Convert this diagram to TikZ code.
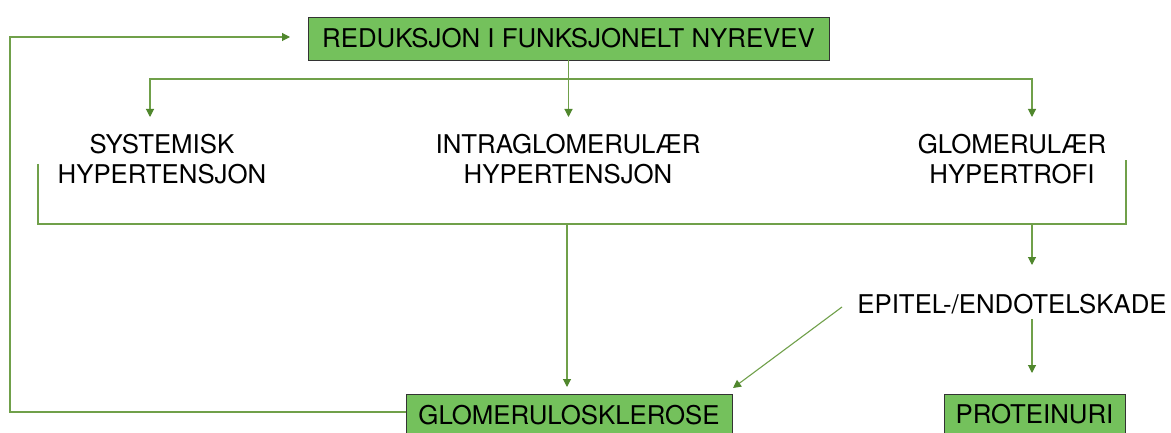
\documentclass[tikz,border=0pt]{standalone}
\usepackage{fontspec}
\setmainfont{TeX Gyre Heros}
\usetikzlibrary{arrows.meta}
\definecolor{boxgreen}{RGB}{116,193,92}
\definecolor{linegreen}{RGB}{112,160,74}
\definecolor{tipgreen}{RGB}{80,135,45}
\tikzset{
  lab/.style={font=\fontsize{25.8}{30}\selectfont, align=center, inner sep=0pt, text=black},
  gbox/.style={lab, draw=black!80, line width=0.8pt, fill=boxgreen},
  conn/.style={draw=linegreen, line width=1.1pt},
  arr/.style={conn, -{Triangle[length=8pt,width=8pt,color=tipgreen]}},
}
\begin{document}
\begin{tikzpicture}[x=1pt,y=-1pt]
\clip (0,0) rectangle (1171,433);
\fill[white] (0,0) rectangle (1171,433);
% nodes
\node[gbox, minimum width=521pt, minimum height=43pt] (top) at (568.5,38.5) {REDUKSJON I FUNKSJONELT NYREVEV};
\node[lab] (sys) at (162,159) {SYSTEMISK\\HYPERTENSJON};
\node[lab] (intra) at (568,159) {INTRAGLOMERULÆR\\HYPERTENSJON};
\node[lab] (glom) at (1012,159) {GLOMERULÆR\\HYPERTROFI};
\node[lab] (epi) at (1012,304) {EPITEL-/ENDOTELSKADE};
\node[gbox, minimum width=326pt, minimum height=42pt] (glosk) at (569,415) {GLOMERULOSKLEROSE};
\node[gbox, minimum width=181pt, minimum height=40pt] (prot) at (1034.5,414) {PROTEINURI};
% coordinates
\coordinate (hub) at (top.south |- 0,79);
\coordinate (s1) at (150,117);
\coordinate (s2) at (top.south |- 0,117);
\coordinate (s3) at (1032,117);
\coordinate (bl) at (38,164);
\coordinate (br) at (1126,160);
\coordinate (bc) at (567,224);
\coordinate (bg) at (1032,224);
\coordinate (epin) at (1032,265);
\coordinate (epis) at (1032,319);
\coordinate (protn) at (1032,373);
\coordinate (epiw) at (842,307);
\coordinate (glosktr) at (733,388);
\coordinate (gloskn) at (567,387);
\coordinate (fbc) at (10,37);
\coordinate (fbend) at (290,37);
\coordinate (gloskw) at (glosk.west |- 0,412);
% connectors
\draw[conn] (top.south) -- (hub);
\draw[arr] (hub) -| (s1);
\draw[arr] (hub) -| (s3);
\draw[arr] (hub) -- (s2);
\draw[conn] (bl) |- (bc) -- (bg) -| (br);
\draw[arr] (bc) -- (gloskn);
\draw[arr] (bg) -- (epin);
\draw[arr] (epis) -- (protn);
\draw[arr] (epiw) -- (glosktr);
\draw[arr] (gloskw) -| (fbc) -- (fbend);
\end{tikzpicture}
\end{document}
